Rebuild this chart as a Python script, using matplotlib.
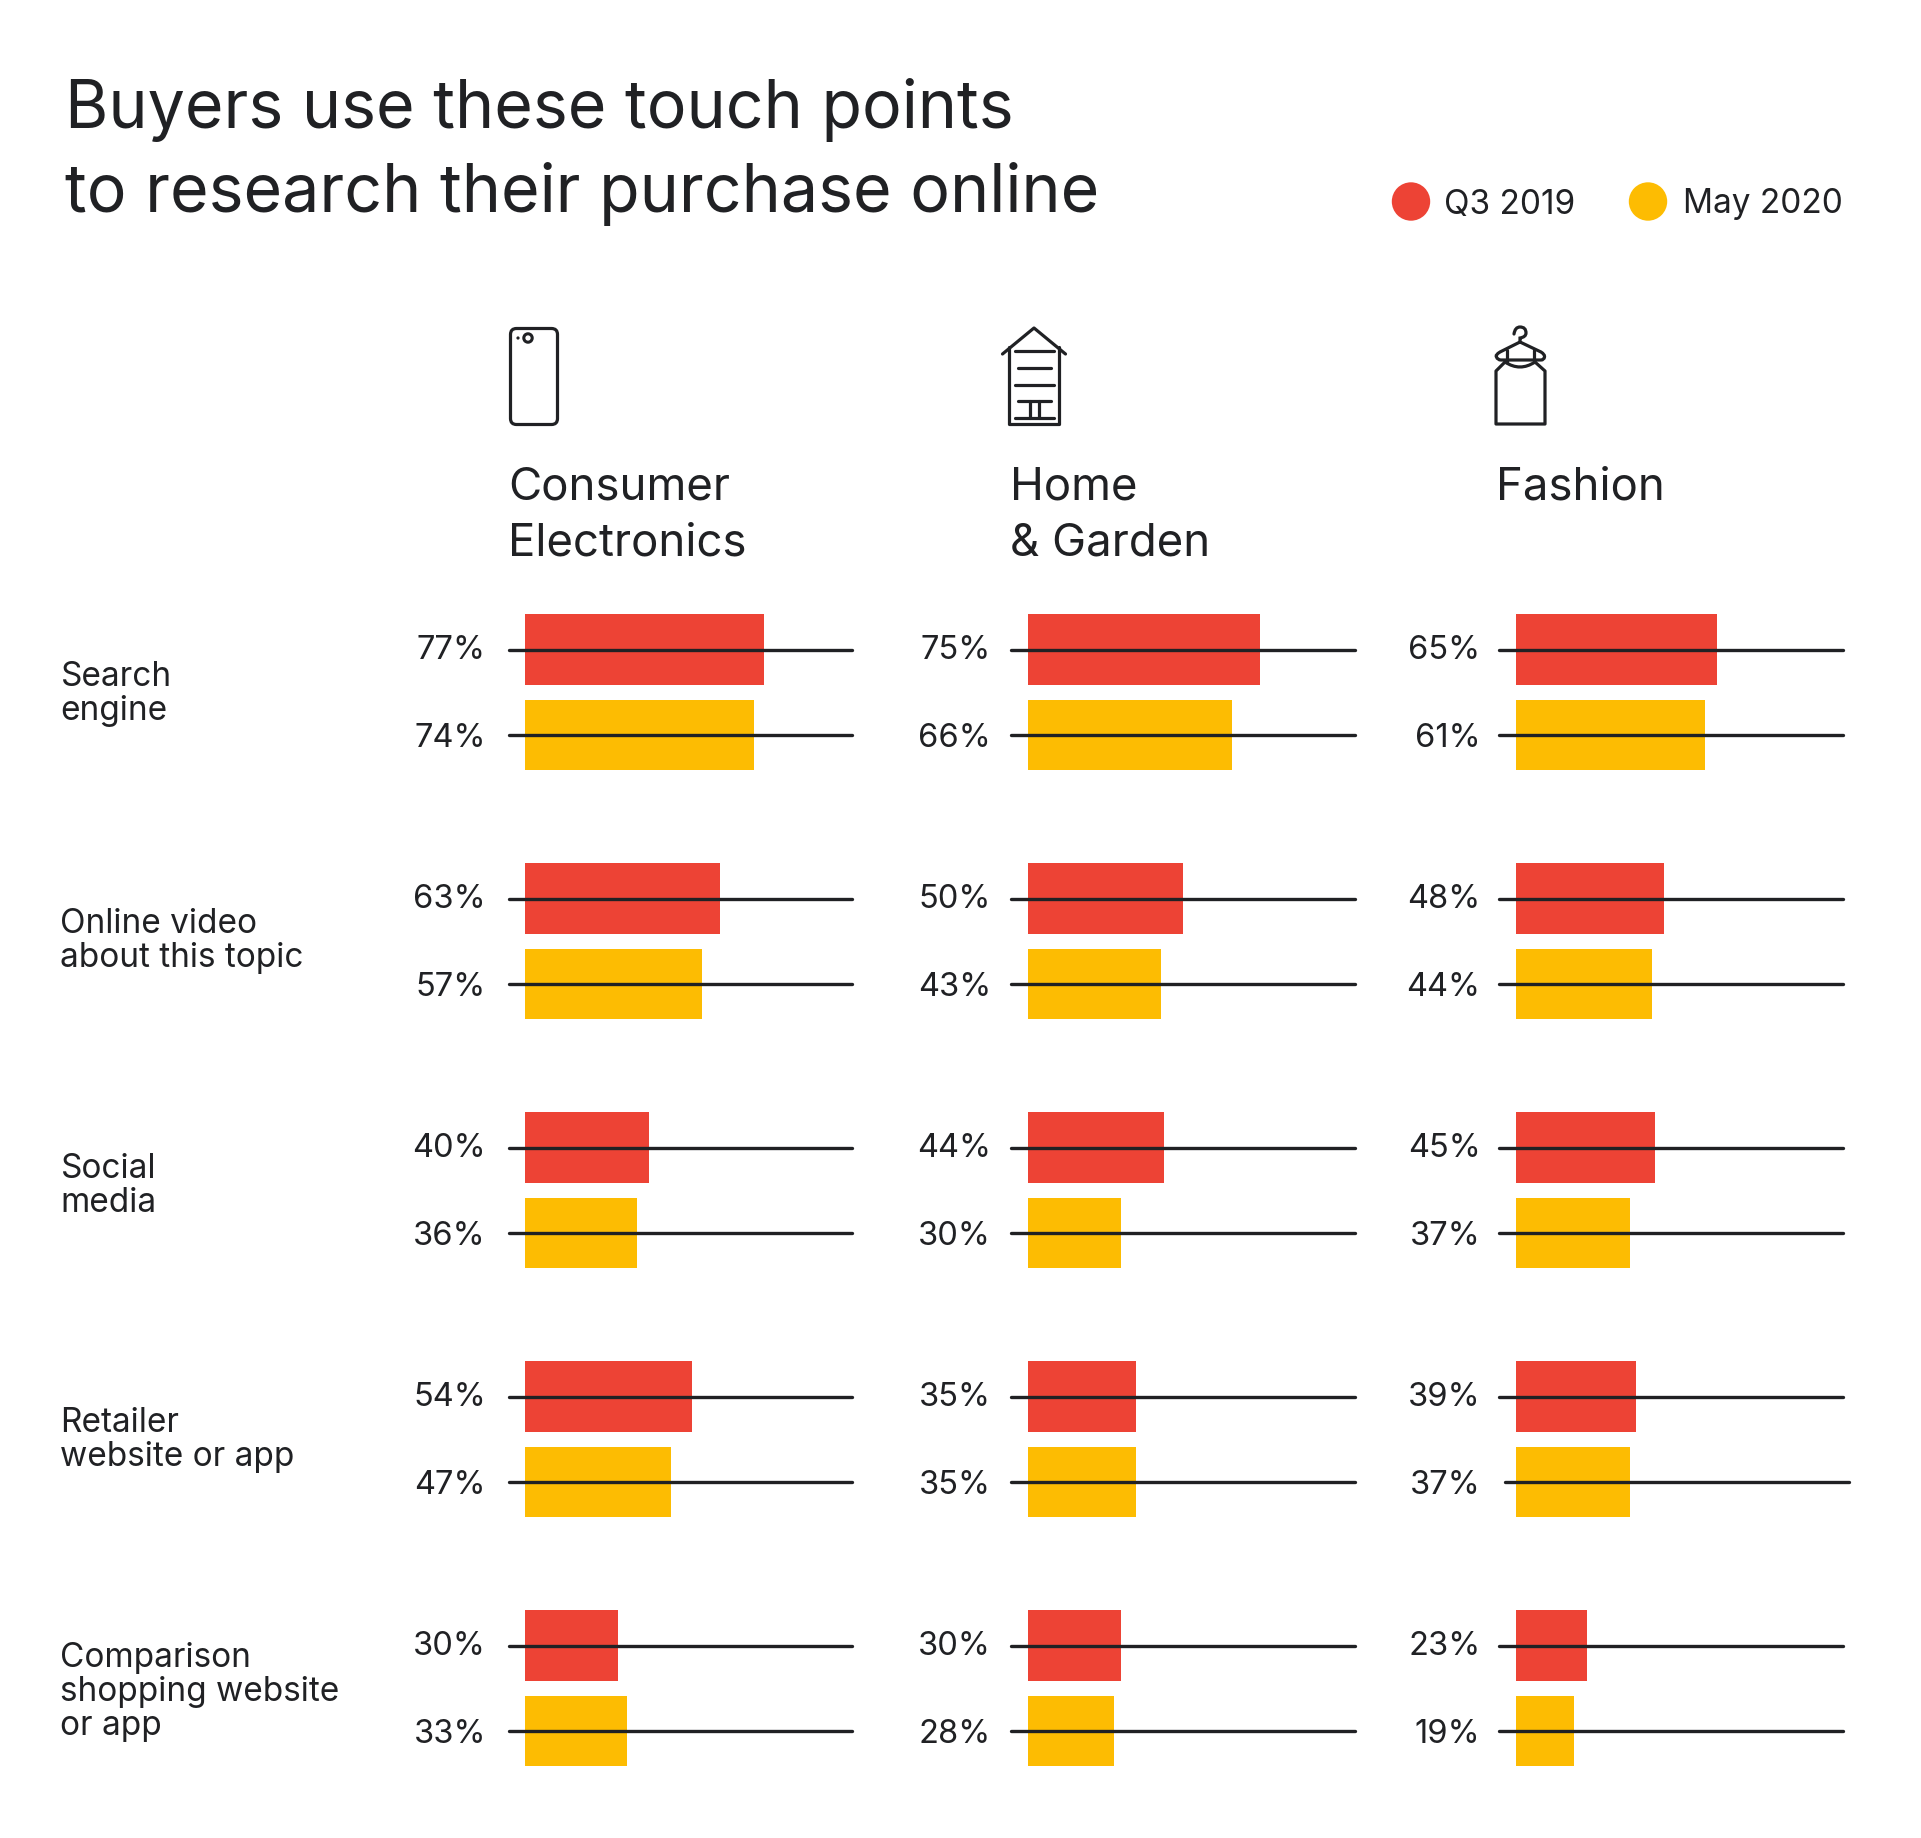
import matplotlib
matplotlib.use("Agg")
import matplotlib.pyplot as plt
from matplotlib.patches import Circle, FancyBboxPatch, PathPatch
from matplotlib.path import Path

plt.rcParams['font.family'] = ['Inter', 'DejaVu Sans']

W, H = 1921, 1838
RED = '#ED4335'
YELLOW = '#FDBC02'
INK = '#202124'

# Data

touch_points = ["Search\nengine", "Online video\nabout this topic", "Social\nmedia",
                "Retailer\nwebsite or app", "Comparison\nshopping website\nor app"]
sectors = ["Consumer\nElectronics", "Home\n& Garden", "Fashion"]
series_names = ["Q3 2019", "May 2020"]

electronics_2019 = [77, 63, 40, 54, 30]
electronics_2020 = [74, 57, 36, 47, 33]
home_2019 = [75, 50, 44, 35, 30]
home_2020 = [66, 43, 30, 35, 28]
fashion_2019 = [65, 48, 45, 39, 23]
fashion_2020 = [61, 44, 37, 37, 19]

# Layout, in picture pixels

PX_PER_PCT = 3.10
ROW_PITCH = 249
BAR_H = 70.8
YELLOW_OFFSET = 85.4
FIRST_ROW_Y = 649.6

# bar start, line start, line end, right edge of the percent label
columns = [
    (electronics_2019, electronics_2020, 525, 509, 852, 486),
    (home_2019, home_2020, 1027.5, 1011, 1355, 991),
    (fashion_2019, fashion_2020, 1515.5, 1499, 1843, 1480.5),
]
row_label_baselines = [[686, 720], [933, 967], [1178.5, 1212.5], [1432, 1466], [1667, 1701, 1735]]


def make_column_axes(fig, bar_x):
    # each panel gets its own axes, percent on x and row number on y
    left, right, top, bottom = bar_x - 30, bar_x + 345, 600, 1790
    ax = fig.add_axes([left / W, 1 - bottom / H, (right - left) / W, (bottom - top) / H])
    ax.set_xlim((left - bar_x) / PX_PER_PCT, (right - bar_x) / PX_PER_PCT)
    ax.set_ylim((bottom - FIRST_ROW_Y) / ROW_PITCH, (top - FIRST_ROW_Y) / ROW_PITCH)
    ax.patch.set_alpha(0)
    ax.axis('off')
    return ax


def plot_column(fig, col_index, col):
    vals_a, vals_b, bar_x, line_x0, line_x1, label_x = col
    ax = make_column_axes(fig, bar_x)
    bar_h = BAR_H / ROW_PITCH
    shift = YELLOW_OFFSET / ROW_PITCH
    for i, (a, b) in enumerate(zip(vals_a, vals_b)):
        ax.barh(i, a, height=bar_h, color=RED, zorder=1)
        ax.barh(i + shift, b, height=bar_h, color=YELLOW, zorder=1)
        # (row y, value, label nudge in pixels)
        for y, v, nudge in ((i, a, 3), (i + shift, b, 0)):
            x0, x1 = line_x0, line_x1
            # this one line sits a little off in the original
            if col_index == 2 and i == 3 and y != i:
                x0, x1 = 1505, 1849
            ax.plot([(x0 - bar_x) / PX_PER_PCT, (x1 - bar_x) / PX_PER_PCT], [y, y],
                    color=INK, lw=2.4, solid_capstyle='round', zorder=2, clip_on=False)
            ax.annotate(f"{v}%", xy=(0, y), xytext=(label_x - bar_x, nudge), textcoords='offset pixels',
                        ha='right', va='center_baseline', fontsize=23.5, color=INK)


def draw_icon_lines(ax, segments, lw=2.3):
    for seg in segments:
        xs, ys = zip(*seg)
        ax.plot(xs, ys, color=INK, lw=lw, solid_capstyle='round', solid_joinstyle='round')


def draw_curve(ax, verts, codes, lw=2.3):
    ax.add_patch(PathPatch(Path(verts, codes), fc='none', ec=INK, lw=lw, capstyle='round'))


def draw_icons(ax):
    # phone
    ax.add_patch(FancyBboxPatch((515.5, 333.5), 37, 86, boxstyle="round,pad=5,rounding_size=6",
                                fc='none', ec=INK, lw=2.3))
    ax.add_patch(Circle((528, 338), 4.2, fc='none', ec=INK, lw=2.2))
    ax.add_patch(Circle((518, 338), 1.6, fc=INK, ec='none'))

    # house
    draw_icon_lines(ax, [
        [(1002.5, 354), (1034, 328), (1065.5, 354)],
        [(1009, 347), (1009, 424), (1059, 424), (1059, 347)],
        [(1015, 351), (1054, 351)],
        [(1018, 368), (1051, 368)],
        [(1015, 385), (1054, 385)],
        [(1018, 401), (1051, 401)],
        [(1015, 418), (1054, 418)],
        [(1030, 401), (1030, 418)],
        [(1039, 401), (1039, 418)],
    ])

    # hanger and dress
    draw_curve(ax, [(1514, 334), (1515, 327), (1520, 327), (1526, 327), (1526, 333), (1526, 337), (1520, 338), (1520, 342)],
               [Path.MOVETO, Path.CURVE3, Path.CURVE3, Path.CURVE3, Path.CURVE3, Path.CURVE3, Path.CURVE3, Path.LINETO])
    draw_curve(ax, [(1520, 342), (1500, 352), (1495, 355), (1496.5, 357), (1497.5, 360), (1501, 360),
                    (1541, 360), (1544, 360), (1544.5, 357), (1545, 354.5), (1541, 352), (1520, 342)],
               [Path.MOVETO, Path.LINETO, Path.CURVE3, Path.CURVE3, Path.CURVE3, Path.CURVE3,
                Path.LINETO, Path.CURVE3, Path.CURVE3, Path.CURVE3, Path.CURVE3, Path.LINETO])
    draw_curve(ax, [(1505, 362), (1520, 372), (1535, 362)], [Path.MOVETO, Path.CURVE3, Path.CURVE3])
    draw_icon_lines(ax, [
        [(1507, 350), (1507, 362)],
        [(1534, 350), (1534, 362)],
        [(1505, 362), (1496, 371), (1496, 424), (1545, 424), (1545, 371), (1535, 362)],
    ])


def draw_text(ax):
    ax.text(65, 128.5, "Buyers use these touch points", fontsize=47.7, color=INK, va='baseline')
    ax.text(65, 212.5, "to research their purchase online", fontsize=47.7, color=INK, va='baseline')

    # legend
    for name, color, cx, tx in zip(series_names, (RED, YELLOW), (1411, 1648), (1444, 1683)):
        ax.add_patch(Circle((cx, 201.5), 19.2, fc=color, ec='none'))
        ax.text(tx, 213.5, name, fontsize=24, color=INK, va='baseline')

    # sector headers
    for name, x in zip(sectors, (508, 1010, 1496)):
        for j, line in enumerate(name.split("\n")):
            ax.text(x, 500 + j * 55, line, fontsize=32.8, color=INK, va='baseline')

    # row names
    for name, baselines in zip(touch_points, row_label_baselines):
        for line, y in zip(name.split("\n"), baselines):
            ax.text(60.5, y, line, fontsize=24, color=INK, va='baseline')


def main():
    fig = plt.figure(figsize=(W / 100, H / 100), dpi=100, facecolor='white')

    page = fig.add_axes([0, 0, 1, 1])
    page.set_xlim(0, W)
    page.set_ylim(H, 0)
    page.axis('off')

    draw_text(page)
    draw_icons(page)

    for i, col in enumerate(columns):
        plot_column(fig, i, col)

    fig.savefig("out.png", dpi=100, facecolor='white')


if __name__ == "__main__":
    main()
